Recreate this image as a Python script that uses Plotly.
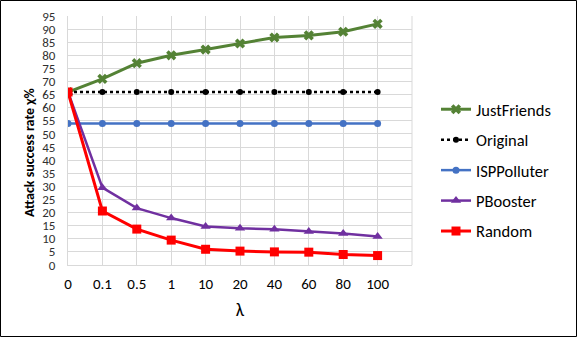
import plotly.graph_objects as go

lambdas = ["0", "0.1", "0.5", "1", "10", "20", "40", "60", "80", "100"]
just_friends = [66, 71, 77, 80, 82.2, 84.5, 86.8, 87.6, 89, 92]
original = [66, 66, 66, 66, 66, 66, 66, 66, 66, 66]
isp_polluter = [54, 54, 54, 54, 54, 54, 54, 54, 54, 54]
pbooster = [66, 29.5, 21.7, 17.9, 14.7, 14, 13.6, 12.8, 12, 10.9]
random_attack = [66, 20.6, 13.7, 9.5, 6, 5.3, 5, 4.9, 4, 3.6]
y_ticks = list(range(0, 100, 5))

FONT = "Carlito, Lato, sans-serif"
xs = list(range(len(lambdas)))

fig = go.Figure()
fig.add_trace(go.Scatter(
    x=xs, y=just_friends, name="JustFriends", mode="lines+markers", legendgroup="a",
    line=dict(color="#548235", width=3),
    marker=dict(symbol="x", size=9, color="#548235")))
fig.add_trace(go.Scatter(
    x=xs, y=original, name="Original", mode="lines+markers", legendgroup="b",
    line=dict(color="black", width=2.5, dash="dot"),
    marker=dict(symbol="circle", size=6, color="black")))
fig.add_trace(go.Scatter(
    x=xs, y=isp_polluter, name="ISPPolluter", mode="lines+markers", legendgroup="c",
    line=dict(color="#4472C4", width=2.5),
    marker=dict(symbol="circle", size=7, color="#4472C4")))
fig.add_trace(go.Scatter(
    x=xs, y=pbooster, name="PBooster", mode="lines+markers", legendgroup="d",
    line=dict(color="#7030A0", width=2.5),
    marker=dict(symbol="triangle-up", size=9, color="#7030A0")))
fig.add_trace(go.Scatter(
    x=xs, y=random_attack, name="Random", mode="lines+markers", legendgroup="e",
    line=dict(color="#FF0000", width=3),
    marker=dict(symbol="square", size=9, color="#FF0000")))

W, H = 577, 337
L, R, T, B = 68, 165, 16, 72
pw, ph = W - L - R, H - T - B


def px(x):
    return (x - L) / pw


def py(y):
    return (H - B - y) / ph


fig.update_layout(
    width=W, height=H,
    margin=dict(l=L, r=R, t=T, b=B, autoexpand=False),
    paper_bgcolor="white", plot_bgcolor="white",
    font=dict(family=FONT, size=14, color="#404040"),
    showlegend=True,
    legend=dict(x=px(436), y=py(92), xanchor="left", yanchor="top",
                traceorder="grouped", tracegroupgap=6,
                font=dict(family=FONT, size=16.5, color="black"),
                bgcolor="rgba(0,0,0,0)"),
    xaxis=dict(range=[0, 10], tickvals=xs + [10], ticktext=lambdas + [""],
               showgrid=True, gridcolor="#d9d9d9", gridwidth=1,
               showline=True, linecolor="#d9d9d9", linewidth=1,
               zeroline=False, ticks="", ticklabelstandoff=5, automargin=False,
               tickfont=dict(size=15, color="black"),
               title=dict(text="λ", font=dict(size=18, color="black"), standoff=11)),
    yaxis=dict(range=[0, 95], tickvals=y_ticks,
               showgrid=True, gridcolor="#d9d9d9", gridwidth=1,
               showline=True, linecolor="#d9d9d9", linewidth=1,
               zeroline=False, ticks="", ticklabelstandoff=9, automargin=False,
               tickfont=dict(size=13, color="#303030")),
    annotations=[dict(
        text="<b>Attack success rate χ%</b>", xref="paper", yref="paper",
        x=px(29), y=py(153), xanchor="center", yanchor="middle",
        textangle=-90, showarrow=False,
        font=dict(family=FONT, size=14, color="black"))],
    shapes=[
        dict(type="line", xref="paper", yref="paper", x0=1, x1=1, y0=0, y1=1,
             line=dict(color="#d9d9d9", width=1)),
        dict(type="rect", xref="paper", yref="paper",
             x0=px(0.5), x1=px(W - 0.5), y0=py(H - 0.5), y1=py(0.5),
             line=dict(color="black", width=1), layer="above"),
    ],
)

fig.write_html("out.html", config={"displayModeBar": False},
               post_script="document.body.style.margin='0';")
